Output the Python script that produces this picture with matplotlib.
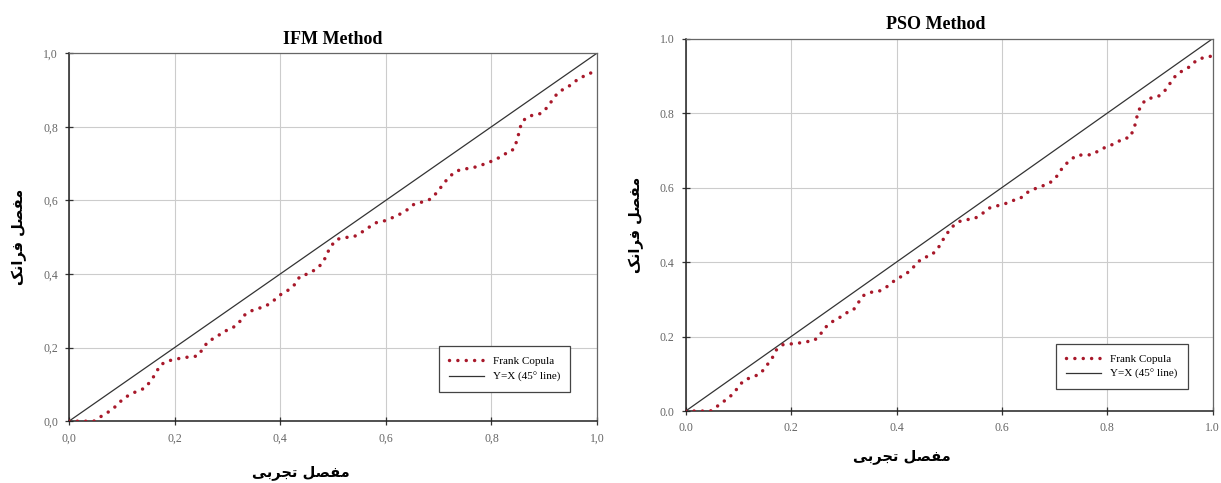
import matplotlib
matplotlib.use("Agg")
import matplotlib.pyplot as plt

ifm_x = [0.0, 0.047, 0.062, 0.078, 0.089, 0.102, 0.116, 0.13, 0.144, 0.155, 0.165, 0.172,
         0.186, 0.2, 0.215, 0.23, 0.244, 0.253, 0.264, 0.278, 0.292, 0.307, 0.321, 0.33,
         0.344, 0.357, 0.371, 0.387, 0.401, 0.415, 0.428, 0.4375, 0.452, 0.468, 0.479,
         0.487, 0.494, 0.507, 0.523, 0.539, 0.551, 0.565, 0.581, 0.595, 0.611, 0.626,
         0.64, 0.653, 0.67, 0.684, 0.698, 0.708, 0.72, 0.734, 0.748, 0.763, 0.778, 0.794,
         0.809, 0.823, 0.836, 0.845, 0.848, 0.854, 0.856, 0.866, 0.879, 0.894, 0.908,
         0.917, 0.929, 0.941, 0.954, 0.968, 0.982, 0.996]
ifm_y = [0.0, 0.0, 0.014, 0.028, 0.041, 0.06, 0.073, 0.082, 0.09, 0.11, 0.131, 0.152,
         0.163, 0.168, 0.172, 0.175, 0.177, 0.196, 0.218, 0.227, 0.243, 0.251, 0.265, 0.286,
         0.299, 0.306, 0.311, 0.327, 0.344, 0.356, 0.372, 0.394, 0.4, 0.413, 0.428,
         0.448, 0.472, 0.494, 0.499, 0.501, 0.51, 0.524, 0.539, 0.543, 0.552, 0.562,
         0.574, 0.589, 0.596, 0.603, 0.623, 0.643, 0.664, 0.68, 0.685, 0.688, 0.694, 0.703,
         0.711, 0.725, 0.731, 0.745, 0.765, 0.791, 0.809, 0.825, 0.832, 0.836, 0.856,
         0.877, 0.897, 0.904, 0.918, 0.934, 0.94, 0.954]

pso_x = [0.0, 0.047, 0.061, 0.077, 0.09, 0.1, 0.11, 0.127, 0.141, 0.152, 0.164, 0.172,
         0.184, 0.198, 0.213, 0.227, 0.242, 0.253, 0.261, 0.273, 0.29, 0.304, 0.318, 0.327,
         0.337, 0.352, 0.366, 0.381, 0.396, 0.411, 0.427, 0.438, 0.451, 0.465, 0.478,
         0.486, 0.495, 0.505, 0.519, 0.533, 0.547, 0.56, 0.576, 0.591, 0.605, 0.62, 0.634,
         0.647, 0.661, 0.678, 0.692, 0.706, 0.716, 0.729, 0.741, 0.754, 0.77, 0.785, 0.8,
         0.815, 0.83, 0.843, 0.849, 0.855, 0.857, 0.863, 0.872, 0.884, 0.897, 0.911,
         0.921, 0.931, 0.943, 0.957, 0.97, 0.985, 0.998]
pso_y = [0.0, 0.0, 0.014, 0.031, 0.046, 0.065, 0.082, 0.092, 0.099, 0.119, 0.142, 0.164,
         0.178, 0.18, 0.182, 0.186, 0.188, 0.2, 0.218, 0.236, 0.249, 0.263, 0.271, 0.29,
         0.31, 0.319, 0.321, 0.333, 0.35, 0.363, 0.377, 0.397, 0.412, 0.417, 0.435,
         0.455, 0.475, 0.494, 0.509, 0.514, 0.516, 0.527, 0.545, 0.551, 0.556, 0.565, 0.57,
         0.586, 0.596, 0.605, 0.614, 0.633, 0.656, 0.673, 0.686, 0.688, 0.688, 0.7, 0.711,
         0.718, 0.732, 0.734, 0.754, 0.778, 0.798, 0.817, 0.835, 0.841, 0.845, 0.863,
         0.884, 0.903, 0.914, 0.925, 0.943, 0.95, 0.953]

ticks = [0.0, 0.2, 0.4, 0.6, 0.8, 1.0]
ifm_ticklabels = ["0,0", "0,2", "0,4", "0,6", "0,8", "1,0"]
pso_ticklabels = ["0.0", "0.2", "0.4", "0.6", "0.8", "1.0"]

# Persian labels, pre-joined (presentation forms, visual order) since matplotlib does no shaping
ylab = "\uFB8F\uFEE7\uFE8D\uFEAE\uFED3 \uFEDE\uFEBC\uFED4\uFEE3"   # مفصل فرانک
xlab = "\uFBFD\uFE91\uFEAE\uFEA0\uFE97 \uFEDE\uFEBC\uFED4\uFEE3"   # مفصل تجربی

fig = plt.figure(figsize=(12.21, 4.83), dpi=100)
ax1 = fig.add_axes([0.0565, 0.128, 0.4325, 0.762])
ax2 = fig.add_axes([0.5616, 0.149, 0.4316, 0.771])

panels = [
    (ax1, ifm_x, ifm_y, ifm_ticklabels, "IFM Method", 0.5, (-0.08, 0.5), (0.44, -0.14), (0.96, 0.065)),
    (ax2, pso_x, pso_y, pso_ticklabels, "PSO Method", 0.475, (-0.08, 0.5), (0.41, -0.121), (0.963, 0.043)),
]

for ax, x, y, tl, title, tx, ylc, xlc, lg in panels:
    ax.plot(x, y, color="#a8182a", lw=2.5, linestyle=(0, (0.01, 2.4)),
            dash_capstyle="round", label="Frank Copula", zorder=3)
    ax.plot([0, 1], [0, 1], color="#333333", lw=0.9, label="Y=X (45° line)", zorder=2)
    ax.set_xlim(0, 1)
    ax.set_ylim(0, 1)
    ax.set_xticks(ticks)
    ax.set_yticks(ticks)
    ax.set_xticklabels(tl, family="Liberation Serif", fontsize=8.5, color="#666666")
    ax.set_yticklabels(tl, family="Liberation Serif", fontsize=8.5, color="#666666")
    ax.tick_params(direction="inout", length=6, width=0.9, color="#333333", pad=5)
    ax.grid(True, color="#cccccc", lw=0.8)
    ax.set_axisbelow(True)
    for s in ["left", "bottom"]:
        ax.spines[s].set_color("#222222")
        ax.spines[s].set_linewidth(1.1)
    for s in ["top", "right"]:
        ax.spines[s].set_color("#666666")
        ax.spines[s].set_linewidth(0.9)
    ax.text(tx, 1.015, title, transform=ax.transAxes, ha="center", va="bottom",
            family="Liberation Serif", fontweight="bold", fontsize=13)
    ax.set_ylabel(ylab, family="DejaVu Sans", fontweight="bold", fontsize=10.5)
    ax.yaxis.set_label_coords(*ylc)
    ax.text(xlc[0], xlc[1], xlab, transform=ax.transAxes, ha="center", va="center",
            family="DejaVu Sans", fontweight="bold", fontsize=10.5)
    leg = ax.legend(loc="lower right", bbox_to_anchor=lg, fancybox=False,
                    edgecolor="#444444", framealpha=1, handlelength=3.2,
                    borderpad=0.9, prop={"family": "Liberation Serif", "size": 8})
    leg.get_frame().set_linewidth(0.9)

fig.savefig("out.png", dpi=100)
